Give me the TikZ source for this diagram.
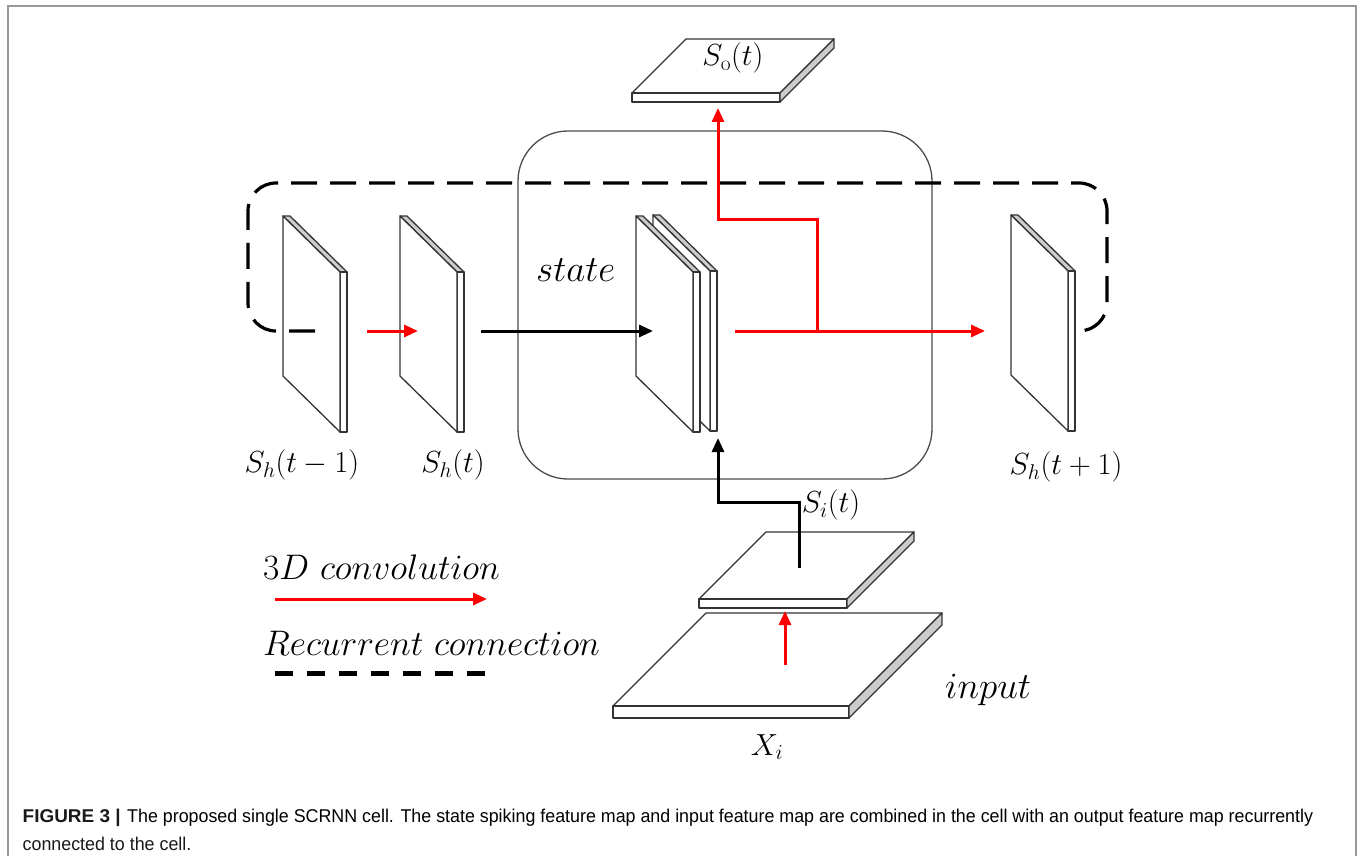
\RequirePackage{fix-cm}
\documentclass[tikz,border=0pt]{standalone}
\usepackage{fontspec}
\usetikzlibrary{arrows.meta}
\newfontfamily\capfont{Liberation Sans}
\tikzset{
 mapline/.style={draw=black!80, line width=1.3pt, line join=round},
 strip/.style={mapline, fill=gray!40},
 face/.style={mapline, fill=white},
 conv/.style={draw=red, line width=3pt, -{Triangle[length=14pt,width=12pt]}},
 plainarr/.style={draw=black, line width=3pt, -{Triangle[length=14pt,width=12pt]}},
 recur/.style={draw=black, line width=3.2pt, dash pattern=on 26pt off 13pt, rounded corners=28pt},
 mlabel/.style={font=\fontsize{30.5}{34}\selectfont, inner sep=0pt},
 wlabel/.style={font=\fontsize{35.5}{40}\selectfont, inner sep=0pt},
 blabel/.style={font=\fontsize{37}{42}\selectfont, inner sep=0pt},
 cellbox/.style={draw=black!70, line width=1.3pt, rounded corners=50pt},
 captext/.style={anchor=base west, inner sep=0pt, text=black!90},
}
% vertical feature map: name, x, y of top-left corner
\newcommand{\vmap}[3]{%
 \coordinate (#1) at (#2,#3);
 \filldraw[strip] (#2,#3) -- ++(7,0) -- ++(57,56) -- ++(-7,0) -- cycle;
 \filldraw[face] (#2+57,#3+56) -- ++(7,0) -- ++(0,160) -- ++(-7,0) -- cycle;
 \filldraw[face] (#2,#3) -- ++(57,56) -- ++(0,160) -- ++(-57,-56) -- cycle;
}
% horizontal feature map: name, x, y (front-left), width, depth, thickness
\newcommand{\hmap}[6]{%
 \coordinate (#1) at (#2,#3);
 \filldraw[face] (#2,#3) -- ++(#4,0) -- ++(#5,-#5) -- ++(-#4,0) -- cycle;
 \filldraw[face] (#2,#3) -- ++(#4,0) -- ++(0,#6) -- ++(-#4,0) -- cycle;
 \filldraw[strip] (#2+#4,#3) -- ++(#5,-#5) -- ++(0,#6) -- ++(-#5,#5) -- cycle;
}
\newcommand{\capsz}{\capfont\fontsize{18.5}{22}\selectfont}
\newsavebox\caplineone
\begin{document}
\sbox\caplineone{\capsz The proposed single SCRNN cell. The state spiking feature map and input feature map are combined in the cell with an output feature map recurrently}%
\pgfmathsetmacro\capk{1186/\wd\caplineone}%
\begin{tikzpicture}[x=1pt,y=-1pt]
\useasboundingbox (0,0) rectangle (1360,856);
% frame
\draw[gray!80, line width=2pt] (7.5,860) -- (7.5,6.5) -- (1355.5,6.5) -- (1355.5,860);

% cell box
\draw[cellbox] (518,131) rectangle (932,479);

% feature maps
\vmap{hprev}{283}{216}
\vmap{hcur}{400}{216}
\vmap{stateback}{653}{215}
\vmap{statefront}{636}{216}
\vmap{hnext}{1011}{215}
\hmap{omap}{632}{93}{148}{54}{9}
\hmap{imap}{699}{599}{148}{67}{9}
\hmap{xmap}{613}{706}{236}{93}{12}

% connection points
\coordinate (p1s) at (367,331);
\coordinate (p1e) at (418,331);
\coordinate (p2s) at (481,331);
\coordinate (p2e) at (653,331);
\coordinate (p3s) at (735,331);
\coordinate (p3e) at (985,331);
\coordinate (br) at (817,331);
\coordinate (brtop) at (817,219);
\coordinate (oleft) at (718,219);
\coordinate (oin) at (718,108);
\coordinate (is) at (799,568);
\coordinate (iup) at (799,502);
\coordinate (ileft) at (718,502);
\coordinate (sin) at (718,438);
\coordinate (xs) at (785,665);
\coordinate (xe) at (785,611);
\coordinate (rs) at (315,331);
\coordinate (rc1) at (248,331);
\coordinate (rc2) at (248,183);
\coordinate (rc3) at (1107,183);
\coordinate (rc4) at (1107,331);
\coordinate (re) at (1076,331);

% recurrent loop
\draw[recur] (rs) -- (rc1) -- (rc2) -- (rc3) -- (rc4) -- (re);

% arrows
\draw[conv] (p1s) -- (p1e);
\draw[plainarr] (p2s) -- (p2e);
\draw[conv] (p3s) -- (p3e);
\draw[conv] (br) -- (brtop) -- (oleft) -- (oin);
\draw[plainarr] (is) -- (iup) -- (ileft) -- (sin);
\draw[conv] (xs) -- (xe);

% labels
\node[mlabel] (lhprev) at (302,465) {$S_h(t-1)$};
\node[mlabel] (lhcur) at (453,465) {$S_h(t)$};
\node[mlabel] (lhnext) at (1066,467) {$S_h(t+1)$};
\node[mlabel] (lo) at (733,58) {$S_{\mathrm{o}}(t)$};
\node[mlabel] (li) at (831,505) {$S_i(t)$};
\node[mlabel] (lx) at (767,747) {$X_i$};
\node[blabel, anchor=base west] (lstate) at (536,281) {$state$};
\node[blabel, anchor=base west] (linput) at (945,698) {$input$};

% legend
\node[wlabel, anchor=base west] (lconv) at (263,579) {$3D\ convolution$};
\node[wlabel, anchor=base west] (lrec) at (263,655) {$Recurrent\ connection$};
\coordinate (lg1s) at (275,599);
\coordinate (lg1e) at (487,599);
\coordinate (lg2s) at (275,673);
\coordinate (lg2e) at (490,673);
\draw[conv] (lg1s) -- (lg1e);
\draw[black, line width=5pt, dash pattern=on 18pt off 14pt] (lg2s) -- (lg2e);

% caption
\node[captext] (cap1a) at (22.5,822) {\resizebox{98pt}{\height}{\capsz\textbf{FIGURE 3 |}}};
\node[captext] (cap1b) at (127,822) {\scalebox{\capk}[1]{\usebox\caplineone}};
\node[captext] (cap2) at (22.5,850) {\scalebox{\capk}[1]{\capsz connected to the cell.}};
\end{tikzpicture}
\end{document}
